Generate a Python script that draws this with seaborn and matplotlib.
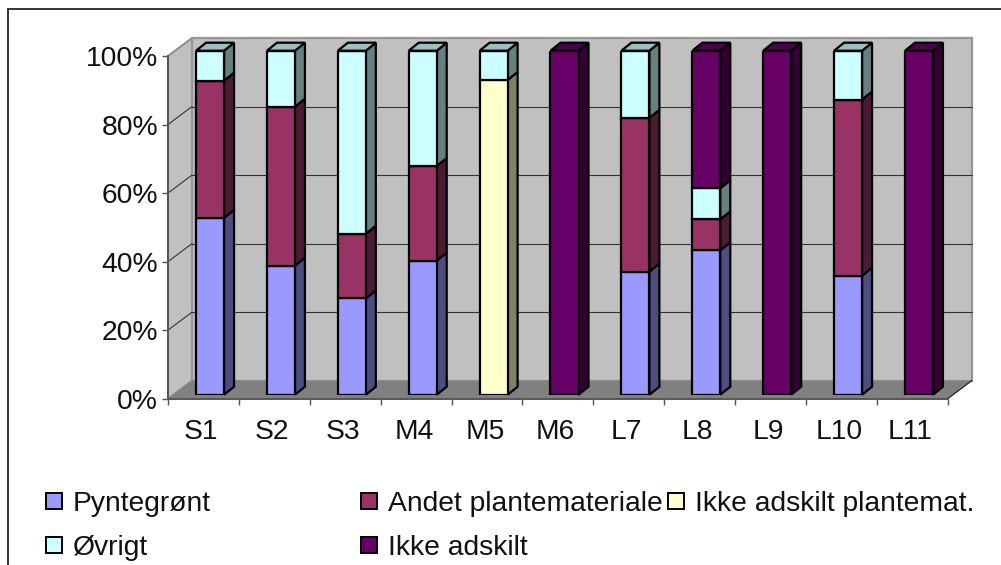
import numpy as np
import seaborn as sns
import matplotlib.pyplot as plt
from matplotlib.patches import Polygon, Rectangle
from matplotlib.transforms import Affine2D

categories = ["S1", "S2", "S3", "M4", "M5", "M6", "L7", "L8", "L9", "L10", "L11"]
pyntegroent = [51.4, 37.5, 28.0, 39.0, 0, 0, 35.8, 42.0, 0, 34.6, 0]
andet = [39.9, 46.2, 18.8, 27.5, 0, 0, 44.7, 9.0, 0, 51.2, 0]
ikke_plantemat = [0, 0, 0, 0, 91.5, 0, 0, 0, 0, 0, 0]
oevrigt = [8.7, 16.3, 53.2, 33.5, 8.5, 0, 19.5, 9.0, 0, 14.2, 0]
ikke_adskilt = [0, 0, 0, 0, 0, 100, 0, 40.0, 100, 0, 100]

series_names = ["Pyntegrønt", "Andet plantemateriale", "Ikke adskilt plantemat.", "Øvrigt", "Ikke adskilt"]
series_values = [pyntegroent, andet, ikke_plantemat, oevrigt, ikke_adskilt]
colors = ["#9999FF", "#993366", "#FFFFCC", "#CCFFFF", "#660066"]

W, H = 1001, 565

sns.set_theme(style="white")
plt.rcParams["font.family"] = ["Liberation Sans", "DejaVu Sans"]
FONT = 20.3
TEXT = "#111111"


def px_axes(fig, left, right, top, bottom, **kw):
    # axes placed by pixel edges of the picture
    return fig.add_axes([left / W, 1 - bottom / H, (right - left) / W, (bottom - top) / H], **kw)


def shade(color, k):
    r, g, b = plt.matplotlib.colors.to_rgb(color)
    return (r * k, g * k, b * k)


fig = plt.figure(figsize=(W / 100, H / 100), dpi=100)

# outer frame and legend, in picture pixels
bg = px_axes(fig, 0, W, 0, H, zorder=0)
bg.set_xlim(0, W)
bg.set_ylim(H, 0)
bg.set_axis_off()
bg.plot([7.5, 7.5, W], [H, 8.5, 8.5], color="#333333", lw=1.4, solid_joinstyle="miter")

legend_x = [47, 362, 669, 47, 362]
legend_y = [501, 501, 501, 545, 545]
for name, color, lx, ly in zip(series_names, colors, legend_x, legend_y):
    bg.add_patch(Rectangle((lx - 1.5, ly - 8), 16, 16, fc=color, ec="black", lw=1.4))
    bg.text(lx + 26, ly, name, fontsize=FONT, color=TEXT, va="center_baseline", ha="left")

# front plane of the 3D box, carries the axis ticks
ax = px_axes(fig, 168, 947.7, 56, 398.7, zorder=1)
ax.set_xlim(-0.5, 10.5)
ax.set_ylim(0, 100)
ax.patch.set_visible(False)
back = ax.transData + Affine2D().translate(24, 18)
x0, x1 = -0.5, 10.5
dx = (x1 - x0) / (947.7 - 168) * 24
dy = 100 / 342.7 * 18

ax.add_patch(Polygon([(x0, 0), (x0, 100), (x0 + dx, 100 + dy), (x0 + dx, dy)], fc="#C0C0C0", ec="#8C8C8C", lw=1.4, clip_on=False, zorder=1))
ax.add_patch(Rectangle((x0, 0), x1 - x0, 100, fc="#C0C0C0", ec="#969696", lw=1.6, transform=back, clip_on=False, zorder=1))
ax.add_patch(Polygon([(x0, 0), (x1, 0), (x1 + dx, dy), (x0 + dx, dy)], fc="#808080", ec="none", clip_on=False, zorder=2))
ax.plot([x1, x1 + dx], [0, dy], color="#222222", lw=0.9, clip_on=False, zorder=3)

y_ticks = [0, 20, 40, 60, 80, 100]
for t in y_ticks[1:-1]:
    ax.plot([x0, x1], [t, t], color="#333333", lw=0.8, transform=back, clip_on=False, zorder=2)
    ax.plot([x0, x0 + dx], [t, t + dy], color="#333333", lw=0.8, clip_on=False, zorder=2)

ax.set_yticks(y_ticks)
ax.set_yticklabels([f"{t}%" for t in y_ticks], fontsize=FONT, color=TEXT)
ax.set_xticks(np.arange(len(categories)) - 0.03)
ax.set_xticklabels(categories, fontsize=FONT, color=TEXT)
ax.set_xticks(np.arange(len(categories) + 1) - 0.5, minor=True)
ax.tick_params(axis="x", which="major", length=0, pad=14.5)
ax.tick_params(axis="x", which="minor", length=4.3, width=1.0, color="#555555", bottom=True)
ax.tick_params(axis="y", length=4.2, width=1.0, color="#555555", pad=3, left=True)
for side in ["top", "right"]:
    ax.spines[side].set_visible(False)
for side in ["left", "bottom"]:
    ax.spines[side].set_color("#555555")
    ax.spines[side].set_linewidth(1.4)
    ax.spines[side].set_zorder(3)

# bars sit a little way into the box
bars = px_axes(fig, 174.6, 954.4, 50.7, 394.7, zorder=2)
bars.patch.set_visible(False)
bottom = np.zeros(len(categories))
BAR_W = 0.395
depth_x = BAR_W / 28 * 10
depth_y = 100 / 344 * 8
for values, color in zip(series_values, colors):
    values = np.array(values, dtype=float)
    sns.barplot(x=categories, y=values, bottom=bottom, color=color, saturation=1, width=BAR_W,
                edgecolor="black", linewidth=1.6, ax=bars, zorder=4)
    for i, v in enumerate(values):
        if v == 0:
            continue
        r = i + BAR_W / 2
        b, t = bottom[i], bottom[i] + v
        bars.add_patch(Polygon([(r, b), (r, t), (r + depth_x, t + depth_y), (r + depth_x, b + depth_y)],
                               fc=shade(color, 0.5), ec="black", lw=1.6, clip_on=False, zorder=3))
        if t >= 99.9:
            l = i - BAR_W / 2
            bars.add_patch(Polygon([(l, t), (r, t), (r + depth_x, t + depth_y), (l + depth_x, t + depth_y)],
                                   fc=shade(color, 0.75), ec="black", lw=1.6, clip_on=False, zorder=3))
    bottom += values
bars.set_xlim(-0.5, 10.5)
bars.set_ylim(0, 100)
bars.set_axis_off()

plt.savefig("out.png", dpi=100)
